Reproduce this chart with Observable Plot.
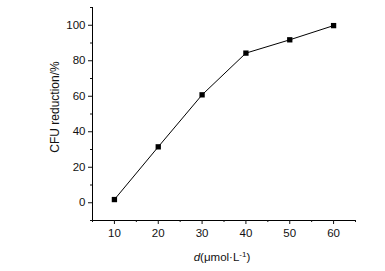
<!DOCTYPE html>
<html><head><meta charset="utf-8">
<script src="https://cdn.jsdelivr.net/npm/d3@7"></script>
<script src="https://cdn.jsdelivr.net/npm/@observablehq/plot@0.6"></script>
<style>body{margin:0;background:#fff}</style>
</head><body><div id="chart"></div>
<script>
const doses = [10, 20, 30, 40, 50, 60];
const reduction = [1.8, 31.5, 60.8, 84.3, 91.8, 99.8];
const xTicks = [10, 20, 30, 40, 50, 60];
const xMinor = [5, 15, 25, 35, 45, 55, 65];
const yTicks = [0, 20, 40, 60, 80, 100];
const yMinor = [-10, 10, 30, 50, 70, 90, 110];
const yLabel = "CFU reduction/%";

const data = doses.map((d, i) => ({d, r: reduction[i]}));
const font = "Liberation Sans, Arial, sans-serif";

const plot = Plot.plot({
  width: 385, height: 271,
  marginLeft: 92, marginRight: 30, marginTop: 7, marginBottom: 51,
  style: {fontFamily: font, fontSize: "11.5px", color: "#111", background: "#fff"},
  x: {domain: [5, 65]},
  y: {domain: [-10, 110]},
  marks: [
    Plot.ruleX([5], {stroke: "#000", strokeWidth: 1}),
    Plot.ruleY([-10], {stroke: "#000", strokeWidth: 1}),
    Plot.axisX({ticks: xTicks, tickSize: 4, tickPadding: 4, label: null, tickFormat: d => d}),
    Plot.axisX({ticks: xMinor, tickSize: 2, tickFormat: () => "", label: null}),
    Plot.axisY({ticks: yTicks, tickSize: 4, tickPadding: 3, label: null}),
    Plot.axisY({ticks: yMinor, tickSize: 2, tickFormat: () => "", label: null}),
    Plot.line(data, {x: "d", y: "r", stroke: "#000", strokeWidth: 1}),
    Plot.dot(data, {x: "d", y: "r", symbol: "square", r: 3, fill: "#000", stroke: "none"})
  ]
});
document.getElementById("chart").appendChild(plot);

const svg = d3.select(plot);
svg.append("text")
  .attr("transform", "translate(59,107) rotate(-90)")
  .attr("text-anchor", "middle")
  .attr("font-family", font).attr("font-size", 12).attr("fill", "#111")
  .text(yLabel);
const xl = svg.append("text")
  .attr("x", 222).attr("y", 261)
  .attr("text-anchor", "middle")
  .attr("font-family", font).attr("font-size", 11.5).attr("fill", "#111");
xl.append("tspan").attr("font-style", "italic").text("d");
xl.append("tspan").text("(μmol·L");
xl.append("tspan").attr("dy", -4).attr("font-size", 8).text("-1");
xl.append("tspan").attr("dy", 4).text(")");
</script></body></html>
